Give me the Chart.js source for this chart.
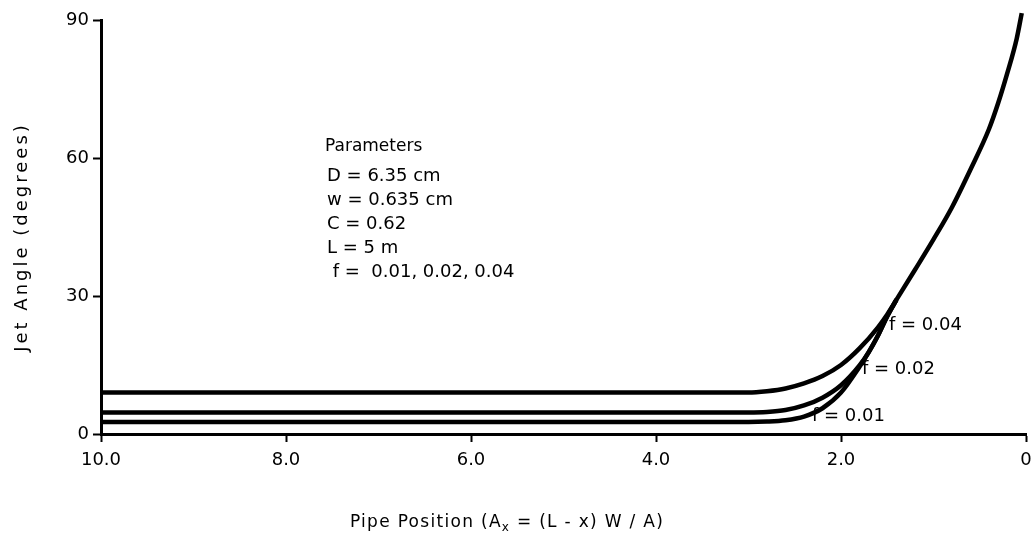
<!DOCTYPE html>
<html>
<head>
<meta charset="utf-8">
<script src="https://cdn.jsdelivr.net/npm/chart.js@4"></script>
<style>
  html, body { margin: 0; background: #fff; }
</style>
</head>
<body>
<canvas id="jetChart" width="1034" height="542"></canvas>
<script>
// pipe position A_x (x axis, reversed) and jet angle in degrees
const pipePos04 = [10.0, 3.0, 2.8, 2.6, 2.4, 2.2, 2.0, 1.8, 1.6, 1.5, 1.4, 1.2, 1.0, 0.8, 0.6, 0.4, 0.3, 0.2, 0.1, 0.046];
const angle04   = [9.0,  9.0, 9.3, 9.9, 11.0, 12.6, 15.0, 18.6, 23.2, 26.0, 29.2, 35.7, 42.3, 49.3, 57.5, 66.3, 72.0, 78.6, 86.0, 91.5];

const pipePos02 = [10.0, 3.0, 2.8, 2.6, 2.4, 2.2, 2.0, 1.8, 1.7, 1.6, 1.5, 1.4];
const angle02   = [4.7,  4.7, 4.8, 5.2, 6.2, 7.9, 10.6, 14.9, 17.8, 21.4, 25.6, 29.2];

const pipePos01 = [10.0, 3.0, 2.8, 2.6, 2.4, 2.2, 2.0, 1.8, 1.7, 1.6, 1.5, 1.4];
const angle01   = [2.6,  2.6, 2.7, 3.0, 3.8, 5.6, 9.0, 14.6, 17.8, 21.4, 25.6, 29.2];

const seriesNames = ['f = 0.04', 'f = 0.02', 'f = 0.01'];
const xTickStep = 2;
const yTickStep = 30;

const paramTitle = 'Parameters';
const paramLines = ['D = 6.35 cm', 'w = 0.635 cm', 'C = 0.62', 'L = 5 m', ' f =  0.01, 0.02, 0.04'];

function toPoints(xs, ys) {
  return xs.map((x, i) => ({ x: x, y: ys[i] }));
}

const FONT = '"DejaVu Sans", sans-serif';

function lineSet(label, xs, ys) {
  return {
    label: label,
    data: toPoints(xs, ys),
    borderColor: '#000',
    borderWidth: 4.5,
    pointRadius: 0,
    fill: false,
    clip: 12,
    cubicInterpolationMode: 'monotone'
  };
}

// titles and notes drawn on the canvas
const textPlugin = {
  id: 'textPlugin',
  afterDraw(chart) {
    const ctx = chart.ctx;
    ctx.save();
    ctx.fillStyle = '#000';
    ctx.textBaseline = 'middle';

    // y title
    ctx.save();
    ctx.translate(22, 237);
    ctx.rotate(-Math.PI / 2);
    ctx.font = '18px ' + FONT;
    ctx.letterSpacing = '3px';
    ctx.textAlign = 'center';
    ctx.fillText('Jet Angle (degrees)', 0, 0);
    ctx.restore();

    // x title with subscript
    ctx.letterSpacing = '1.3px';
    ctx.textAlign = 'left';
    const p1 = 'Pipe Position (A';
    const p2 = 'x';
    const p3 = ' = (L - x) W / A)';
    ctx.font = '17px ' + FONT;
    const w1 = ctx.measureText(p1).width;
    const w3 = ctx.measureText(p3).width;
    ctx.font = '12px ' + FONT;
    const w2 = ctx.measureText(p2).width;
    const x = 507 - (w1 + w2 + w3) / 2;
    ctx.font = '17px ' + FONT;
    ctx.fillText(p1, x, 523);
    ctx.font = '12px ' + FONT;
    ctx.fillText(p2, x + w1, 528);
    ctx.font = '17px ' + FONT;
    ctx.fillText(p3, x + w1 + w2, 523);

    // parameters block
    ctx.letterSpacing = '0px';
    ctx.font = '17px ' + FONT;
    ctx.fillText(paramTitle, 325, 147);
    ctx.font = '18px ' + FONT;
    paramLines.forEach((t, i) => {
      ctx.fillText(t, 327, 176 + i * 24);
    });

    // curve labels
    ctx.fillText(seriesNames[0], 889, 325);
    ctx.fillText(seriesNames[1], 862, 369);
    ctx.fillText(seriesNames[2], 812, 416);
    ctx.restore();
  }
};

const config = {
  type: 'line',
  data: {
    datasets: [
      lineSet(seriesNames[0], pipePos04, angle04),
      lineSet(seriesNames[1], pipePos02, angle02),
      lineSet(seriesNames[2], pipePos01, angle01)
    ]
  },
  options: {
    responsive: false,
    animation: false,
    layout: { padding: { top: 20, right: 8, bottom: 0, left: 0 } },
    plugins: {
      legend: { display: false },
      tooltip: { enabled: false }
    },
    scales: {
      x: {
        type: 'linear',
        reverse: true,
        min: 0,
        max: 10,
        afterFit(scale) {
          scale.height = 108;
          scale.paddingLeft = 0;
          scale.paddingRight = 0;
        },
        grid: {
          drawOnChartArea: false,
          drawTicks: true,
          tickLength: 8,
          tickWidth: 2,
          tickColor: '#000'
        },
        border: { display: true, color: '#000', width: 3 },
        ticks: {
          stepSize: xTickStep,
          color: '#000',
          padding: 8,
          maxRotation: 0,
          font: { family: FONT, size: 18 },
          callback: (v) => v === 0 ? '0' : v.toFixed(1)
        }
      },
      y: {
        min: 0,
        max: 90,
        afterFit(scale) {
          scale.width = 101;
          scale.paddingTop = 0;
          scale.paddingBottom = 0;
        },
        grid: {
          drawOnChartArea: false,
          drawTicks: true,
          tickLength: 8,
          tickWidth: 2,
          tickColor: '#000'
        },
        border: { display: true, color: '#000', width: 3 },
        ticks: {
          stepSize: yTickStep,
          color: '#000',
          padding: 4,
          font: { family: FONT, size: 18 }
        }
      }
    }
  },
  plugins: [textPlugin]
};

const jetChart = new Chart(document.getElementById('jetChart'), config);
</script>
</body>
</html>
